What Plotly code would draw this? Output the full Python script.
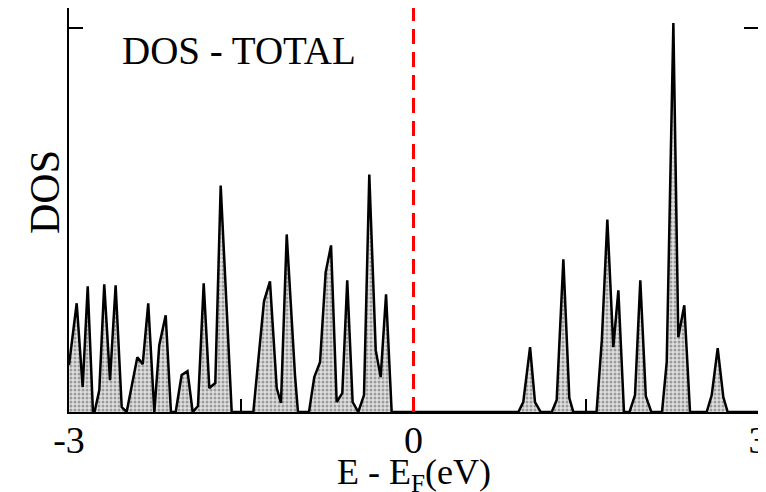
import plotly.graph_objects as go

# Energy grid (eV, relative to Fermi level) and total DOS (arbitrary units)
energy = [-3.000, -2.933, -2.881, -2.837, -2.789, -2.736, -2.693, -2.643, -2.594, -2.541,
          -2.498, -2.405, -2.358, -2.310, -2.257, -2.214, -2.158, -2.112, -2.071, -2.019,
          -1.968, -1.923, -1.877, -1.827, -1.778, -1.726, -1.679, -1.583, -1.395, -1.302,
          -1.250, -1.191, -1.154, -1.104, -1.032, -1.006, -0.910, -0.864, -0.814, -0.765,
          -0.718, -0.669, -0.620, -0.577, -0.530, -0.481, -0.431, -0.385, -0.329, -0.286,
          -0.239, -0.190,
          0.913, 0.956, 1.015, 1.058, 1.108, 1.204, 1.247, 1.305, 1.357, 1.392,
          1.594, 1.640, 1.688, 1.740, 1.784, 1.833, 1.881, 1.929, 1.975, 2.023,
          2.071, 2.164, 2.205, 2.263, 2.306, 2.358, 2.408, 2.553, 2.597, 2.649,
          2.698, 2.736, 3.000]
dos = [0.47, 1.09, 0.25, 1.26, -0.06, 0.22, 1.28, 0.32, 1.27, 0.05,
       0.00, 0.55, 0.48, 1.09, 0.00, 0.67, 0.97, 0.00, 0.00, 0.37,
       0.41, 0.00, 0.06, 1.29, 0.24, 0.29, 2.27, 0.00, 0.00, 1.11,
       1.31, 0.24, 0.09, 1.78, 0.37, 0.00, 0.00, 0.35, 0.50, 1.40,
       1.67, 0.10, 0.19, 1.32, 0.10, 0.00, 0.17, 2.38, 0.62, 0.35,
       1.18, 0.00,
       0.00, 0.10, 0.65, 0.10, 0.00, 0.00, 0.12, 1.53, 0.14, 0.00,
       0.00, 0.72, 1.93, 0.65, 1.22, 0.00, 0.00, 0.17, 1.32, 0.16,
       0.00, 0.00, 0.50, 3.90, 0.75, 1.07, 0.00, 0.00, 0.17, 0.64,
       0.15, 0.00, 0.00]

x_ticks = [-3, 0, 3]
x_tick_labels = ["-3", "0", "3"]
y_ticks = [3.85]
fermi_level = 0.0

FONT = "Liberation Serif"

fig = go.Figure()
fig.add_trace(go.Scatter(
    x=energy, y=dos, mode="lines",
    line=dict(color="black", width=2.5),
    fill="tozeroy",
    fillcolor="rgba(0,0,0,0)",
    fillpattern=dict(shape=".", fgcolor="#555555", bgcolor="#e0e0e0", size=4, solidity=0.45),
    showlegend=False, hoverinfo="skip",
))

fig.add_shape(type="line", xref="x", yref="paper", x0=fermi_level, x1=fermi_level, y0=0, y1=1,
              line=dict(color="#ff0000", width=3, dash="15px,8px"), layer="above")

fig.add_annotation(text="DOS - TOTAL", xref="paper", yref="paper", x=0.074, y=0.894,
                   xanchor="left", yanchor="middle", showarrow=False,
                   font=dict(family=FONT, size=39, color="black"))

# axis titles placed as annotations for exact positioning
fig.add_annotation(text="E - E<sub>F</sub>(eV)", xref="paper", yref="paper", x=0.5, y=0,
                   xanchor="center", yanchor="middle", yshift=-62, showarrow=False,
                   font=dict(family=FONT, size=36, color="black"))
fig.add_annotation(text="DOS", xref="paper", yref="paper", x=0, y=0.5,
                   xanchor="center", yanchor="middle", xshift=-24, yshift=18,
                   textangle=-90, showarrow=False,
                   font=dict(family=FONT, size=42, color="black"))

# the page body adds an 8px offset, so the figure is sized to fill the remaining window
fig.update_layout(
    width=758, height=484,
    margin=dict(l=61, r=8, t=0, b=80),
    paper_bgcolor="white", plot_bgcolor="white",
    font=dict(family=FONT, color="black"),
)
fig.update_xaxes(
    range=[-3, 3], tickvals=x_ticks, ticktext=x_tick_labels,
    ticks="inside", ticklen=14, tickwidth=2, tickcolor="black",
    minor=dict(dtick=1.5, tick0=0, ticks="inside", ticklen=13, tickwidth=2, tickcolor="black"),
    showline=True, linewidth=2, linecolor="black", mirror=True,
    showgrid=False, zeroline=False, automargin=False,
    tickfont=dict(family=FONT, size=38), ticklabelstandoff=-7,
    ticklabeloverflow="allow",
)
fig.update_yaxes(
    range=[0, 4.05], tickvals=y_ticks, showticklabels=False,
    ticks="inside", ticklen=14, tickwidth=2, tickcolor="black",
    showline=True, linewidth=2, linecolor="black", mirror="ticks",
    showgrid=False, zeroline=False, automargin=False,
)

fig.write_html("out.html")
